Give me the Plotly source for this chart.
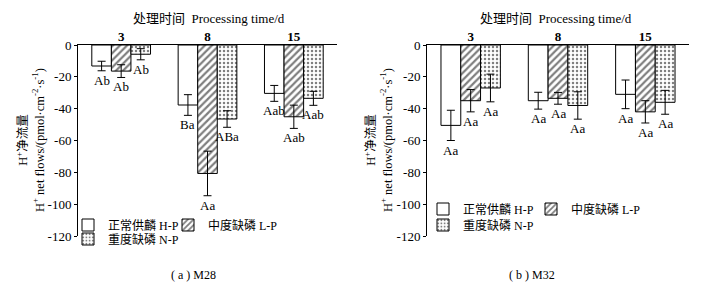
import plotly.graph_objects as go

# ---------------- data ----------------
categories = ["3", "8", "15"]
series_names = ["正常供麟 H-P", "中度缺磷 L-P", "重度缺磷 N-P"]

m28_hp = [-13.2, -37.7, -30.4]
m28_lp = [-16.4, -80.7, -45.1]
m28_np = [-5.8, -46.5, -33.5]
m28_hp_err = [3.0, 6.5, 5.0]
m28_lp_err = [4.0, 14.0, 7.3]
m28_np_err = [3.5, 5.2, 4.4]
m28_hp_lab = ["Ab", "Ba", "Aab"]
m28_lp_lab = ["Ab", "Aa", "Aab"]
m28_np_lab = ["Ab", "ABa", "Aab"]

m32_hp = [-50.5, -35.0, -31.0]
m32_lp = [-35.0, -33.5, -42.0]
m32_np = [-27.0, -38.0, -36.0]
m32_hp_err = [9.5, 5.3, 9.0]
m32_lp_err = [7.0, 3.7, 7.0]
m32_np_err = [8.7, 8.6, 7.5]
m32_hp_lab = ["Aa", "Aa", "Aa"]
m32_lp_lab = ["Aa", "Aa", "Aa"]
m32_np_lab = ["Aa", "Aa", "Aa"]

y_ticks = [0, -20, -40, -60, -80, -100, -120]
y_ticktext = ["0", "-20", "-40", "-60", "-80", "-100", "-120"]

x_title = "处理时间  Processing time/d"
y_title = "H<sup>+</sup>净流量<br>H<sup>+</sup> net flows/(pmol·cm<sup>-2</sup>·s<sup>-1</sup>)"
captions = ["( a ) M28", "( b ) M32"]

# ---------------- layout helpers ----------------
# The page body has an 8px default margin, so the figure is drawn 8px in
# from the top-left of the 710x284 window; positions below are window px.
OFF = 8
W, H = 710 - OFF, 284 - OFF


def px_x(px):
    return (px - OFF) / W


def px_y(py):
    return 1 - (py - OFF) / H


SERIF = "Liberation Serif, Noto Sans CJK SC"
BARGAP = 0.32
patterns = [
    dict(shape=""),
    dict(shape="/", fgcolor="black", bgcolor="white", size=5, solidity=0.45),
    dict(shape=".", fgcolor="black", bgcolor="white", size=4, solidity=0.3),
]

fig = go.Figure()

panels = [
    dict(xa="x", ya="y", vals=[m28_hp, m28_lp, m28_np], errs=[m28_hp_err, m28_lp_err, m28_np_err],
         labs=[m28_hp_lab, m28_lp_lab, m28_np_lab], legends=["legend", "legend2", "legend3"],
         ytitle_x=30, xtitle_x=209, cap_x=193),
    dict(xa="x2", ya="y2", vals=[m32_hp, m32_lp, m32_np], errs=[m32_hp_err, m32_lp_err, m32_np_err],
         labs=[m32_hp_lab, m32_lp_lab, m32_np_lab], legends=["legend4", "legend5", "legend6"],
         ytitle_x=378, xtitle_x=556, cap_x=532),
]

annotations = []
bw = (1 - BARGAP) / 3
for j, p in enumerate(panels):
    for k in range(3):
        fig.add_trace(go.Bar(
            x=categories, y=p["vals"][k], name=series_names[k],
            xaxis=p["xa"], yaxis=p["ya"], legend=p["legends"][k],
            marker=dict(color="white", line=dict(color="black", width=1), pattern=patterns[k]),
            error_y=dict(type="data", array=p["errs"][k], symmetric=True,
                         color="black", thickness=1, width=4),
        ))
        for i in range(len(categories)):
            annotations.append(dict(
                x=i + (k - 1) * bw, y=p["vals"][k][i] - p["errs"][k][i],
                xref=p["xa"], yref=p["ya"], text=p["labs"][k][i], showarrow=False,
                yanchor="top", xanchor="center", yshift=0,
                font=dict(family=SERIF, size=13, color="black"),
            ))
    # y-axis title (two lines, rotated)
    annotations.append(dict(x=px_x(p["ytitle_x"]), y=px_y(140), xref="paper", yref="paper",
                            text=y_title, textangle=-90, showarrow=False,
                            xanchor="center", yanchor="middle",
                            font=dict(family=SERIF, size=12.5, color="black")))
    # x-axis title (top)
    annotations.append(dict(x=px_x(p["xtitle_x"]), y=px_y(18), xref="paper", yref="paper",
                            text=x_title, showarrow=False, xanchor="center", yanchor="middle",
                            font=dict(family=SERIF, size=13, color="black")))
    annotations.append(dict(x=px_x(p["cap_x"]), y=px_y(275), xref="paper", yref="paper",
                            text=captions[j], showarrow=False, xanchor="center", yanchor="middle",
                            font=dict(family=SERIF, size=12, color="black")))

ydom = [px_y(236), px_y(45)]


def xaxis(x0, x1, anchor):
    return dict(domain=[px_x(x0), px_x(x1)], anchor=anchor, type="category", side="top",
                range=[-0.5, 2.5], automargin=False, ticklabelstandoff=-2,
                showline=True, linecolor="black", linewidth=1, ticks="", showgrid=False,
                zeroline=False, tickfont=dict(family=SERIF, size=13, color="black", weight="bold"))


def yaxis(anchor):
    return dict(domain=ydom, anchor=anchor, range=[-120, 0], tickvals=y_ticks, ticktext=y_ticktext,
                automargin=False,
                showline=True, linecolor="black", linewidth=1, ticks="outside", ticklen=3,
                tickcolor="black", showgrid=False, zeroline=False,
                tickfont=dict(family=SERIF, size=13, color="black"))


def legend(xpx, ypx):
    return dict(orientation="v", x=px_x(xpx), y=px_y(ypx), xanchor="left", yanchor="middle",
                xref="paper", yref="paper", bgcolor="rgba(0,0,0,0)", itemwidth=30,
                font=dict(family=SERIF, size=12, color="black"))


fig.update_layout(
    width=W, height=H, margin=dict(l=0, r=0, t=0, b=0, autoexpand=False),
    paper_bgcolor="white", plot_bgcolor="white",
    barmode="group", bargap=BARGAP, bargroupgap=0,
    xaxis=xaxis(78, 337, "y"),
    yaxis=yaxis("x"),
    xaxis2=xaxis(427, 689, "y2"),
    yaxis2=yaxis("x2"),
    legend=legend(68, 225),
    legend2=legend(168, 225),
    legend3=legend(68, 239),
    legend4=legend(423, 209),
    legend5=legend(531, 209),
    legend6=legend(423, 225),
    annotations=annotations,
    showlegend=True,
)

fig.write_html("out.html")
